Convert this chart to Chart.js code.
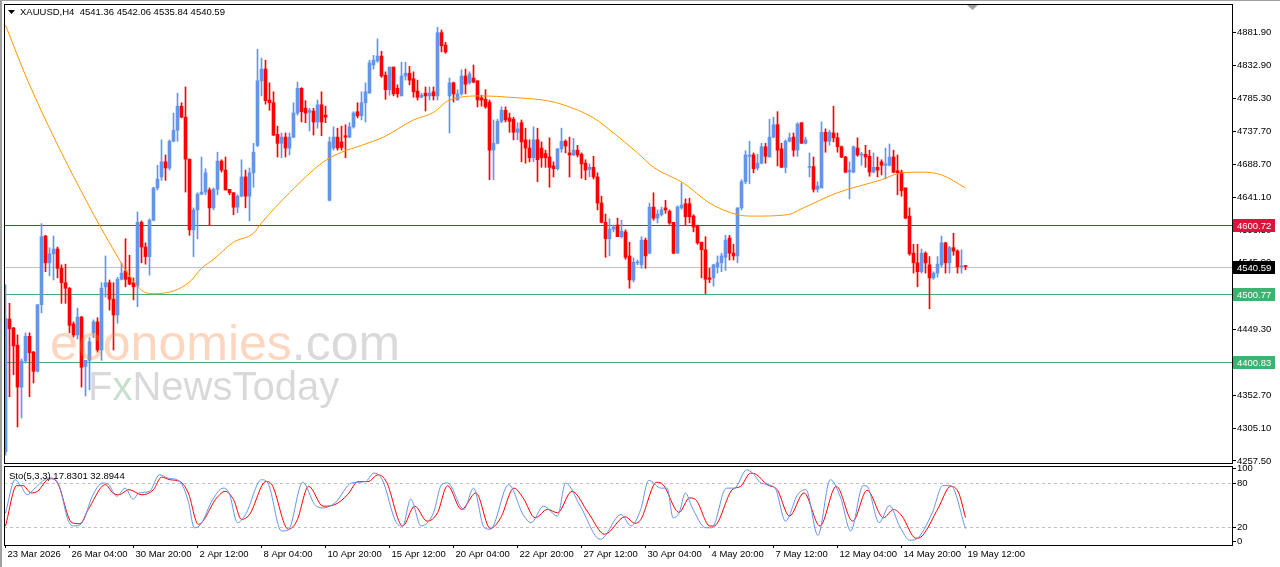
<!DOCTYPE html>
<html>
<head>
<meta charset="utf-8">
<title>XAUUSD H4</title>
<script src="https://cdn.jsdelivr.net/npm/chart.js@4.4.1/dist/chart.umd.min.js"></script>
<style>
  html, body { margin: 0; padding: 0; background: #fff; }
  #wrap { position: relative; width: 1280px; height: 567px; overflow: hidden; background: #fff; }
  #mainChart { position: absolute; left: 0; top: 0; }
  #stoChart { position: absolute; left: 0; top: 464px; }
</style>
</head>
<body>
<div id="wrap">
  <canvas id="mainChart" width="1280" height="464"></canvas>
  <canvas id="stoChart" width="1280" height="103"></canvas>
</div>
<script>
"use strict";
// XAUUSD H4 candles, bar 0 = 23 Mar 2026 ... bar 240 = 19 May 12:00
var opens = [
  4271, 4464, 4451, 4426, 4365, 4403, 4439, 4416, 4388, 4485,
  4585, 4546, 4559, 4566, 4538, 4517, 4509, 4457, 4441, 4467,
  4395, 4404, 4444, 4460, 4419, 4511, 4517, 4493, 4470, 4522,
  4534, 4525, 4517, 4512, 4605, 4569, 4555, 4608, 4655, 4671,
  4693, 4684, 4723, 4739, 4774, 4758, 4697, 4594, 4623, 4646,
  4649, 4652, 4626, 4653, 4694, 4681, 4653, 4648, 4627, 4643,
  4671, 4643, 4677, 4717, 4811, 4828, 4783, 4779, 4733, 4720,
  4729, 4713, 4729, 4764, 4800, 4771, 4765, 4767, 4751, 4776,
  4761, 4637, 4713, 4729, 4722, 4731, 4729, 4744, 4766, 4760,
  4779, 4793, 4834, 4840, 4847, 4819, 4798, 4831, 4800, 4789,
  4818, 4822, 4814, 4796, 4787, 4793, 4789, 4795, 4789, 4881,
  4863, 4789, 4808, 4783, 4792, 4818, 4808, 4815, 4811, 4786,
  4784, 4780, 4710, 4720, 4752, 4768, 4757, 4755, 4736, 4750,
  4725, 4713, 4699, 4725, 4713, 4705, 4700, 4687, 4683, 4712,
  4723, 4706, 4703, 4710, 4704, 4691, 4682, 4685, 4671, 4633,
  4605, 4581, 4595, 4601, 4584, 4591, 4556, 4521, 4546, 4543,
  4579, 4560, 4627, 4611, 4616, 4626, 4621, 4605, 4560, 4626,
  4632, 4632, 4614, 4599, 4576, 4565, 4524, 4524, 4540, 4546,
  4554, 4582, 4560, 4556, 4626, 4664, 4701, 4703, 4684, 4691,
  4715, 4700, 4729, 4747, 4712, 4685, 4723, 4729, 4710, 4750,
  4720, 4685, 4686, 4653, 4655, 4736, 4723, 4735, 4728, 4715,
  4700, 4678, 4678, 4713, 4703, 4704, 4701, 4678, 4685, 4693,
  4688, 4688, 4700, 4680, 4678, 4655, 4614, 4560, 4546, 4533,
  4560, 4543, 4524, 4531, 4543, 4575, 4546, 4568, 4563, 4540,
  4541.36
];
var highs = [
  4514, 4487, 4452, 4441, 4406, 4444, 4444, 4417, 4485, 4603,
  4586, 4568, 4585, 4569, 4543, 4544, 4510, 4460, 4480, 4468,
  4404, 4437, 4463, 4466, 4517, 4556, 4521, 4517, 4525, 4546,
  4581, 4557, 4524, 4620, 4607, 4575, 4610, 4656, 4688, 4725,
  4703, 4725, 4764, 4793, 4779, 4802, 4697, 4626, 4648, 4700,
  4683, 4655, 4655, 4707, 4696, 4700, 4653, 4648, 4645, 4696,
  4681, 4684, 4720, 4857, 4844, 4841, 4808, 4795, 4745, 4735,
  4735, 4735, 4779, 4809, 4801, 4782, 4771, 4771, 4783, 4795,
  4774, 4729, 4744, 4742, 4745, 4747, 4750, 4766, 4779, 4795,
  4808, 4841, 4848, 4872, 4854, 4824, 4831, 4831, 4805, 4838,
  4838, 4832, 4824, 4812, 4793, 4802, 4802, 4802, 4889, 4885,
  4867, 4815, 4809, 4798, 4827, 4828, 4824, 4834, 4811, 4790,
  4798, 4783, 4754, 4755, 4773, 4773, 4764, 4758, 4750, 4754,
  4742, 4725, 4744, 4742, 4722, 4710, 4728, 4693, 4712, 4742,
  4725, 4729, 4727, 4717, 4706, 4696, 4690, 4701, 4677, 4643,
  4617, 4610, 4601, 4611, 4608, 4594, 4576, 4553, 4550, 4584,
  4582, 4633, 4648, 4623, 4627, 4637, 4623, 4605, 4629, 4662,
  4639, 4640, 4616, 4601, 4576, 4584, 4538, 4544, 4556, 4560,
  4586, 4586, 4573, 4626, 4667, 4709, 4723, 4706, 4704, 4720,
  4720, 4755, 4758, 4766, 4720, 4725, 4735, 4735, 4750, 4750,
  4729, 4706, 4700, 4664, 4751, 4741, 4739, 4774, 4735, 4716,
  4701, 4693, 4716, 4728, 4707, 4717, 4710, 4706, 4700, 4696,
  4713, 4719, 4710, 4703, 4681, 4655, 4626, 4573, 4573, 4566,
  4562, 4555, 4533, 4555, 4585, 4576, 4570, 4589, 4565, 4565,
  4542.06
];
var lows = [
  4266, 4351, 4383, 4307, 4320, 4400, 4351, 4371, 4387, 4473,
  4533, 4527, 4521, 4524, 4487, 4487, 4444, 4438, 4435, 4365,
  4352, 4361, 4437, 4416, 4404, 4496, 4477, 4419, 4458, 4521,
  4511, 4514, 4492, 4482, 4546, 4544, 4528, 4607, 4652, 4666,
  4666, 4681, 4722, 4723, 4757, 4649, 4586, 4555, 4581, 4645,
  4645, 4601, 4623, 4645, 4678, 4652, 4645, 4616, 4619, 4642,
  4626, 4607, 4656, 4715, 4789, 4777, 4768, 4731, 4700, 4699,
  4700, 4703, 4728, 4761, 4751, 4750, 4738, 4732, 4742, 4731,
  4750, 4636, 4710, 4710, 4710, 4699, 4728, 4742, 4757, 4754,
  4751, 4793, 4828, 4838, 4816, 4784, 4790, 4789, 4787, 4789,
  4812, 4805, 4787, 4783, 4786, 4767, 4783, 4783, 4783, 4853,
  4851, 4735, 4780, 4783, 4790, 4792, 4806, 4808, 4773, 4774,
  4771, 4667, 4667, 4719, 4750, 4751, 4736, 4725, 4725, 4693,
  4691, 4693, 4693, 4664, 4685, 4685, 4656, 4671, 4681, 4707,
  4706, 4671, 4702, 4700, 4669, 4667, 4671, 4668, 4623, 4604,
  4554, 4556, 4591, 4584, 4582, 4551, 4509, 4518, 4543, 4538,
  4538, 4559, 4608, 4604, 4614, 4618, 4602, 4559, 4560, 4624,
  4601, 4604, 4591, 4573, 4524, 4501, 4517, 4512, 4531, 4533,
  4535, 4550, 4550, 4546, 4623, 4661, 4661, 4677, 4681, 4690,
  4691, 4700, 4728, 4687, 4685, 4677, 4722, 4701, 4701, 4720,
  4719, 4671, 4649, 4649, 4655, 4707, 4717, 4722, 4707, 4699,
  4677, 4639, 4677, 4701, 4688, 4685, 4672, 4677, 4671, 4674,
  4668, 4687, 4677, 4645, 4643, 4610, 4557, 4531, 4511, 4531,
  4531, 4479, 4522, 4525, 4540, 4531, 4531, 4557, 4531, 4531,
  4535.84
];
var closes = [
  4465, 4450, 4425, 4365, 4403, 4439, 4415, 4388, 4485, 4584,
  4546, 4559, 4566, 4538, 4517, 4509, 4455, 4441, 4467, 4394,
  4404, 4431, 4460, 4419, 4509, 4517, 4493, 4470, 4522, 4531,
  4522, 4515, 4511, 4605, 4569, 4555, 4608, 4655, 4668, 4693,
  4684, 4723, 4739, 4774, 4758, 4697, 4594, 4623, 4646, 4649,
  4677, 4626, 4653, 4694, 4681, 4652, 4648, 4627, 4643, 4671,
  4643, 4677, 4707, 4811, 4828, 4782, 4779, 4732, 4720, 4729,
  4713, 4729, 4764, 4800, 4766, 4764, 4768, 4751, 4776, 4751,
  4758, 4722, 4729, 4713, 4714, 4729, 4744, 4764, 4760, 4779,
  4795, 4837, 4841, 4847, 4818, 4798, 4831, 4792, 4792, 4818,
  4822, 4812, 4795, 4787, 4790, 4789, 4793, 4789, 4881, 4862,
  4853, 4808, 4792, 4792, 4818, 4806, 4821, 4809, 4783, 4783,
  4773, 4710, 4720, 4752, 4768, 4754, 4752, 4736, 4741, 4722,
  4713, 4699, 4725, 4696, 4699, 4699, 4685, 4683, 4712, 4723,
  4716, 4703, 4710, 4703, 4690, 4681, 4685, 4671, 4633, 4605,
  4581, 4595, 4598, 4584, 4592, 4554, 4521, 4547, 4547, 4579,
  4556, 4627, 4611, 4617, 4623, 4623, 4604, 4560, 4627, 4630,
  4613, 4613, 4598, 4575, 4565, 4522, 4522, 4543, 4546, 4556,
  4579, 4560, 4556, 4626, 4664, 4703, 4703, 4683, 4691, 4715,
  4701, 4729, 4747, 4710, 4685, 4723, 4728, 4710, 4748, 4720,
  4725, 4686, 4653, 4658, 4736, 4723, 4736, 4728, 4715, 4700,
  4678, 4681, 4715, 4703, 4704, 4700, 4678, 4685, 4681, 4688,
  4690, 4700, 4678, 4677, 4651, 4611, 4559, 4546, 4533, 4560,
  4546, 4524, 4531, 4544, 4575, 4546, 4568, 4563, 4540, 4541,
  4540.59
];

// moving average (bar index, price)
var maIdx = [0, 5.5, 13.25, 20.5, 23.75, 27.5, 30.5, 34.5, 37, 42, 46, 49, 52, 57, 62, 64, 71, 79.5, 84, 89,
  94.5, 102, 107, 111, 119.5, 126, 135.5, 139.5, 147, 152, 158, 162, 169.5, 176, 183, 187, 195.5, 199.5, 208,
  219, 224, 229, 234, 240];
var maVal = [4892, 4812, 4715, 4633, 4598, 4560, 4531, 4504, 4501, 4505, 4518, 4538, 4551, 4576, 4589, 4604,
  4648, 4693, 4707, 4717, 4729, 4754, 4765, 4783, 4789, 4787, 4782, 4776, 4757, 4735, 4706, 4685, 4662, 4633,
  4616, 4614, 4616, 4626, 4648, 4667, 4677, 4678, 4674, 4655];

// Stochastic(5,3,3): main (%K) and signal (%D), turning points
var stoKIdx = [0, 2.4, 3.9, 5.4, 7, 10, 11.5, 13.5, 15.6, 17.1, 19.2, 21.7, 24.3, 25.8, 27.8, 29.9, 31.9, 33.4, 36,
  38.5, 40.6, 43.6, 45.7, 47.2, 48.8, 51.8, 54.4, 55.9, 58, 60, 64, 65.6, 69, 70.7, 74.3, 77.3, 79.4, 82.4, 86.5,
  90, 92.1, 94.2, 97.7, 99.3, 101.3, 103.9, 107, 109, 110.5, 114.6, 117, 119.7, 121.2, 125.8, 129.4, 131.4, 134.5,
  138, 140, 143.7, 148.7, 153.9, 156.4, 158.8, 160.8, 163.9, 165.4, 166.9, 168.4, 170, 171.5, 175.1, 176.6, 180.2,
  182.2, 185.3, 186.8, 188.9, 192.4, 195, 198, 200.1, 203.1, 206.2, 208.8, 211.3, 214.4, 215.4, 218.4, 221, 223.5,
  226.1, 227.6, 231.7, 234.3, 236.3, 240];
var stoK = [39, 84.5, 75.5, 64, 71, 85.4, 86.8, 75.5, 30, 21.4, 26, 62, 80, 77.7, 62, 73, 58, 66.5, 68.7,
  91.3, 86.8, 82, 55, 19, 23.6, 57.5, 73, 66.5, 26, 37, 84.5, 80, 14.6, 16, 81, 50.7, 46, 53, 80,
  82, 93.5, 84.5, 26, 21.4, 58, 21.4, 39.4, 77.7, 80, 44, 73, 19, 17, 77.7, 37, 26, 48.4,
  35, 80, 48.4, 3.3, 37, 21.4, 44, 83.6, 73, 73, 32.6, 39.4, 66.5, 48.4, 19, 19, 73,
  73, 98, 93.5, 80, 73, 28, 64, 71, 8.7, 84.5, 59.7, 14.6, 76.4, 75.5, 26, 49.3, 21.4,
  2, 3.3, 39.4, 76.4, 76.4, 17.83];
var stoDIdx = [0, 2.8, 4.4, 6.4, 8, 11, 13, 16.6, 18.6, 20.7, 25, 26.8, 28.3, 30.9, 34, 37, 39, 41.1, 43.6, 45.7,
  48.2, 52.8, 54.9, 57, 59, 61, 65.1, 66.6, 70.7, 72.8, 75.8, 79.4, 82.4, 85.5, 88.2, 90.6, 93.2, 95.2, 99.3,
  102.3, 105.4, 108, 110.5, 114, 117.6, 121.2, 123.8, 127.1, 129.4, 132.4, 135.5, 138, 141.6, 145.7, 149.8, 154.9,
  157.4, 158.8, 162.8, 164.4, 168.4, 171, 172.5, 176.1, 177.1, 181.7, 183.8, 186.3, 187.8, 190.4, 192.9, 196,
  199.6, 203.6, 207.7, 211.8, 215.4, 219.5, 222, 224.1, 227.6, 229.2, 233.2, 236.3, 238.3, 240];
var stoD = [21.4, 76.4, 76.4, 66.5, 68.7, 86, 80, 26, 24.5, 44, 77.7, 66.5, 64, 71, 64, 71, 88, 84.5, 82, 66.5,
  23.6, 59.7, 68.7, 57.5, 30.4, 37, 82, 77.7, 17, 28, 75.5, 48.4, 50.7, 64, 82, 82, 91.3, 82, 21.4,
  48.4, 28, 39.4, 76.4, 44, 66.5, 18, 32.6, 73, 59.7, 32.6, 44, 39.4, 68.7, 39.4, 10, 34,
  25, 30, 81, 77.7, 40, 59.7, 57.5, 21.4, 21.4, 71, 75.5, 93.5, 91.3, 77.7, 71, 35,
  66.5, 21.4, 75.5, 28, 70, 32.6, 44, 35, 4.7, 8, 46, 75.5, 66.5, 32.89];

// axis ticks and labels
var priceTicks = [4881.90, 4832.90, 4785.30, 4737.70, 4688.70, 4641.10, 4593.50, 4545.90, 4498.30, 4449.30,
  4400.90, 4352.70, 4305.10, 4257.50];
var stoTicks = [100, 80, 20, 0];
var stoLevels = [80, 20];
var timeIdx = [0, 16, 32, 48, 64, 80, 96, 112, 128, 144, 160, 176, 192, 208, 224, 240];
var timeLabels = ['23 Mar 2026', '26 Mar 04:00', '30 Mar 20:00', '2 Apr 12:00', '8 Apr 04:00', '10 Apr 20:00',
  '15 Apr 12:00', '20 Apr 04:00', '22 Apr 20:00', '27 Apr 12:00', '30 Apr 04:00', '4 May 20:00', '7 May 12:00',
  '12 May 04:00', '14 May 20:00', '19 May 12:00'];

// horizontal levels
var levelVals = [4600.72, 4540.59, 4500.77, 4400.83];
var levelLabels = ['4600.72', '4540.59', '4500.77', '4400.83'];

var titleText = 'XAUUSD,H4  4541.36 4542.06 4535.84 4540.59';
var stoText = 'Sto(5,3,3) 17.8301 32.8944';

// ---- styles ----
var FONT = "'Liberation Sans', Arial, sans-serif";
var FSIZE = 9.5;
var BLUE = '#6495ed';
var RED = '#ff0000';
var levelLine = ['#dc143c', '#c0c0c0', '#3cb371', '#3cb371'];
var levelBox = ['#dc143c', '#000000', '#3cb371', '#3cb371'];
var X_MIN = -0.375, X_MAX = 306.625;

var bodyData = opens.map(function (o, i) {
  return { x: i, y: [Math.min(o, closes[i]), Math.max(o, closes[i])] };
});
var wickData = highs.map(function (h, i) {
  return { x: i, y: [lows[i], h] };
});
var candleColors = opens.map(function (o, i) { return closes[i] >= o ? BLUE : RED; });

function frameAndBorder(ctx, ca, w, h) {
  ctx.save();
  ctx.strokeStyle = '#000';
  ctx.lineWidth = 1;
  ctx.strokeRect(ca.left + 0.5, ca.top + 0.5, ca.right - ca.left, ca.bottom - ca.top);
  ctx.fillStyle = '#a0a0a0';
  ctx.fillRect(0, 0, 2, h);
  ctx.restore();
}

var mainDecor = {
  id: 'mainDecor',
  beforeDraw: function (chart) {
    var ctx = chart.ctx;
    ctx.save();
    ctx.fillStyle = '#fff';
    ctx.fillRect(0, 0, chart.width, chart.height);
    ctx.restore();
  },
  beforeDatasetsDraw: function (chart) {
    var ctx = chart.ctx, ca = chart.chartArea, ys = chart.scales.y;
    ctx.save();
    ctx.lineWidth = 1;
    levelVals.forEach(function (v, k) {
      var py = Math.round(ys.getPixelForValue(v)) + 0.5;
      ctx.strokeStyle = levelLine[k];
      ctx.beginPath();
      ctx.moveTo(ca.left, py);
      ctx.lineTo(ca.right, py);
      ctx.stroke();
    });
    ctx.restore();
  },
  afterDatasetsDraw: function (chart) {
    var ctx = chart.ctx;
    // watermark
    ctx.save();
    ctx.textBaseline = 'alphabetic';
    ctx.font = "50px 'Liberation Sans', Arial, sans-serif";
    ctx.fillStyle = 'rgba(245,130,60,0.33)';
    ctx.fillText('economies', 50, 360);
    var w1 = ctx.measureText('economies').width;
    ctx.fillStyle = 'rgba(120,120,120,0.27)';
    ctx.fillText('.com', 50 + w1, 360);
    ctx.font = "40px 'Liberation Sans', Arial, sans-serif";
    ctx.fillStyle = 'rgba(120,120,120,0.28)';
    ctx.fillText('F', 88, 400);
    var wf = ctx.measureText('F').width;
    ctx.fillStyle = 'rgba(70,150,90,0.3)';
    ctx.fillText('x', 88 + wf, 400);
    var wx = ctx.measureText('x').width;
    ctx.fillStyle = 'rgba(120,120,120,0.28)';
    ctx.fillText('NewsToday', 88 + wf + wx, 400);
    ctx.restore();
  },
  afterDraw: function (chart) {
    var ctx = chart.ctx, ca = chart.chartArea, ys = chart.scales.y;
    frameAndBorder(ctx, ca, chart.width, chart.height);
    ctx.save();
    ctx.fillStyle = '#a0a0a0';
    ctx.fillRect(0, 0, chart.width, 1);
    // chart shift marker
    ctx.beginPath();
    ctx.moveTo(967, 5);
    ctx.lineTo(978, 5);
    ctx.lineTo(972.5, 10);
    ctx.closePath();
    ctx.fill();
    // title
    ctx.fillStyle = '#000';
    ctx.beginPath();
    ctx.moveTo(8, 10);
    ctx.lineTo(15, 10);
    ctx.lineTo(11.5, 14);
    ctx.closePath();
    ctx.fill();
    ctx.font = FSIZE + 'px ' + FONT;
    ctx.textBaseline = 'middle';
    ctx.fillText(titleText, 20, 12.5);
    // price labels of the levels
    levelVals.forEach(function (v, k) {
      var py = Math.round(ys.getPixelForValue(v)) + 0.5;
      ctx.fillStyle = levelBox[k];
      ctx.fillRect(ca.right + 1, py - 6.5, 42, 13);
      ctx.fillStyle = '#fff';
      ctx.fillText(levelLabels[k], ca.right + 5, py + 0.5);
    });
    ctx.restore();
  }
};

new Chart(document.getElementById('mainChart'), {
  type: 'bar',
  data: {
    datasets: [
      {
        type: 'line',
        data: maIdx.map(function (x, k) { return { x: x, y: maVal[k] }; }),
        borderColor: '#ff9900',
        borderWidth: 1,
        pointRadius: 0,
        cubicInterpolationMode: 'monotone',
        order: 1
      },
      {
        data: bodyData,
        backgroundColor: candleColors,
        borderWidth: 0,
        barThickness: 3,
        minBarLength: 1,
        grouped: false,
        order: 2
      },
      {
        data: wickData,
        backgroundColor: candleColors,
        borderWidth: 0,
        barThickness: 1,
        grouped: false,
        order: 3
      }
    ]
  },
  options: {
    responsive: false,
    animation: false,
    events: [],
    layout: { padding: { left: 4, top: 4, right: 0, bottom: 1 } },
    plugins: { legend: { display: false }, tooltip: { enabled: false } },
    scales: {
      x: { type: 'linear', min: X_MIN, max: X_MAX, offset: false, display: false, grid: { offset: false } },
      y: {
        position: 'right',
        min: 4254.5,
        max: 4922.8,
        afterBuildTicks: function (s) { s.ticks = priceTicks.map(function (v) { return { value: v }; }); },
        afterFit: function (s) { s.width = 48; s.paddingTop = 0; s.paddingBottom = 0; },
        border: { display: false },
        grid: { drawOnChartArea: false, drawTicks: true, tickLength: 4, color: '#000' },
        ticks: {
          padding: 1,
          color: '#000',
          font: { family: FONT, size: FSIZE },
          callback: function (v) { return Number(v).toFixed(2); }
        }
      }
    }
  },
  plugins: [mainDecor]
});

var stoDecor = {
  id: 'stoDecor',
  beforeDraw: function (chart) {
    var ctx = chart.ctx;
    ctx.save();
    ctx.fillStyle = '#fff';
    ctx.fillRect(0, 0, chart.width, chart.height);
    ctx.restore();
  },
  beforeDatasetsDraw: function (chart) {
    var ctx = chart.ctx, ca = chart.chartArea, ys = chart.scales.y;
    ctx.save();
    ctx.strokeStyle = '#c0c0c0';
    ctx.lineWidth = 1;
    ctx.setLineDash([3, 3]);
    stoLevels.forEach(function (v) {
      var py = Math.round(ys.getPixelForValue(v)) + 0.5;
      ctx.beginPath();
      ctx.moveTo(ca.left, py);
      ctx.lineTo(ca.right, py);
      ctx.stroke();
    });
    ctx.restore();
  },
  afterDraw: function (chart) {
    var ctx = chart.ctx, ca = chart.chartArea;
    frameAndBorder(ctx, ca, chart.width, chart.height);
    ctx.save();
    ctx.fillStyle = '#000';
    ctx.font = FSIZE + 'px ' + FONT;
    ctx.textBaseline = 'middle';
    ctx.fillText(stoText, 9, 12.5);
    ctx.restore();
  }
};

new Chart(document.getElementById('stoChart'), {
  type: 'line',
  data: {
    datasets: [
      {
        data: stoKIdx.map(function (x, k) { return { x: x, y: stoK[k] }; }),
        borderColor: BLUE,
        borderWidth: 1,
        pointRadius: 0,
        cubicInterpolationMode: 'monotone'
      },
      {
        data: stoDIdx.map(function (x, k) { return { x: x, y: stoD[k] }; }),
        borderColor: RED,
        borderWidth: 1,
        pointRadius: 0,
        cubicInterpolationMode: 'monotone'
      }
    ]
  },
  options: {
    responsive: false,
    animation: false,
    events: [],
    layout: { padding: { left: 4, top: 2, right: 0, bottom: 0 } },
    plugins: { legend: { display: false }, tooltip: { enabled: false } },
    scales: {
      x: {
        type: 'linear',
        min: X_MIN,
        max: X_MAX,
        offset: false,
        afterBuildTicks: function (s) { s.ticks = timeIdx.map(function (v) { return { value: v }; }); },
        afterFit: function (s) { s.height = 22; s.paddingLeft = 0; s.paddingRight = 0; },
        border: { display: false },
        grid: { drawOnChartArea: false, drawTicks: true, tickLength: 3, color: '#000', offset: false },
        ticks: {
          autoSkip: false,
          maxRotation: 0,
          align: 'start',
          labelOffset: 2,
          padding: 1,
          color: '#000',
          font: { family: FONT, size: FSIZE },
          callback: function (v, i) { return timeLabels[i]; }
        }
      },
      y: {
        position: 'right',
        min: -4.5,
        max: 103.2,
        afterBuildTicks: function (s) { s.ticks = stoTicks.map(function (v) { return { value: v }; }); },
        afterFit: function (s) { s.width = 48; s.paddingTop = 0; s.paddingBottom = 0; },
        border: { display: false },
        grid: { drawOnChartArea: false, drawTicks: true, tickLength: 4, color: '#000' },
        ticks: {
          padding: 1,
          color: '#000',
          font: { family: FONT, size: FSIZE },
          callback: function (v) { return String(v); }
        }
      }
    }
  },
  plugins: [stoDecor]
});
</script>
</body>
</html>
